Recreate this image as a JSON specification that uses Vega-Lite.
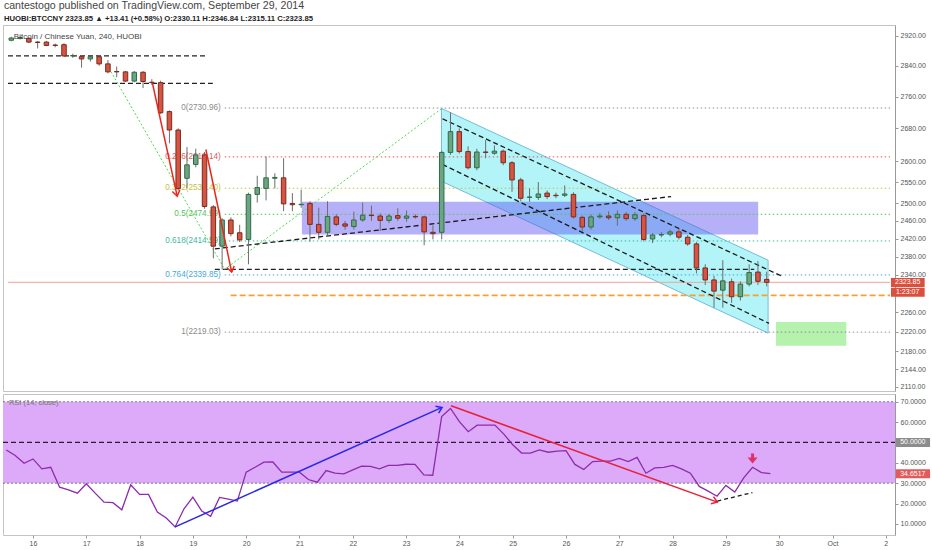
{
"$schema": "https://vega.github.io/schema/vega-lite/v6.json",
"background": "white",
"padding": {"left": 1, "top": 1, "right": 0, "bottom": 0},
"spacing": 1,
"title": {"text": "cantestogo published on TradingView.com, September 29, 2014", "subtitle": "HUOBI:BTCCNY  2323.85 ▲ +13.41 (+0.58%)  O:2330.11  H:2346.84  L:2315.11  C:2323.85", "anchor": "start", "font": "Liberation Sans", "fontSize": 10.6, "fontWeight": "normal", "color": "#444", "subtitleFont": "Liberation Sans", "subtitleFontSize": 7.7, "subtitleFontWeight": "bold", "subtitleColor": "#222", "subtitlePadding": 3, "offset": 2, "dx": 2},
"config": {"view": {"stroke": "#c4c4c4", "strokeWidth": 1}, "font": "Liberation Sans", "axis": {"labelFont": "Liberation Sans", "labelFontSize": 7, "labelColor": "#555", "tickColor": "#999", "tickSize": 3, "domainColor": "#999", "grid": false, "labelPadding": 2, "labelOverlap": false}},
"datasets": {
"bars": [
{"t":"2014-09-15T12:00","o":2908,"h":2917,"l":2905,"c":2914,"rsi":46.3},
{"t":"2014-09-15T16:00","o":2913,"h":2918,"l":2910,"c":2915,"rsi":43.6},
{"t":"2014-09-15T20:00","o":2913,"h":2916,"l":2900,"c":2903,"rsi":39.8},
{"t":"2014-09-16T00:00","o":2903,"h":2906,"l":2886,"c":2902,"rsi":41.9},
{"t":"2014-09-16T04:00","o":2903,"h":2906,"l":2892,"c":2894,"rsi":37.0},
{"t":"2014-09-16T08:00","o":2895,"h":2899,"l":2889,"c":2894,"rsi":37.8},
{"t":"2014-09-16T12:00","o":2896,"h":2900,"l":2864,"c":2866,"rsi":28.0},
{"t":"2014-09-16T16:00","o":2866,"h":2872,"l":2861,"c":2867,"rsi":26.7},
{"t":"2014-09-16T20:00","o":2864,"h":2867,"l":2835,"c":2858,"rsi":25.1},
{"t":"2014-09-17T00:00","o":2858,"h":2866,"l":2851,"c":2864,"rsi":29.7},
{"t":"2014-09-17T04:00","o":2864,"h":2868,"l":2840,"c":2845,"rsi":25.1},
{"t":"2014-09-17T08:00","o":2845,"h":2855,"l":2820,"c":2824,"rsi":20.7},
{"t":"2014-09-17T12:00","o":2825,"h":2838,"l":2810,"c":2824,"rsi":20.4},
{"t":"2014-09-17T16:00","o":2824,"h":2826,"l":2798,"c":2800,"rsi":16.9},
{"t":"2014-09-17T20:00","o":2800,"h":2826,"l":2797,"c":2823,"rsi":29.2},
{"t":"2014-09-18T00:00","o":2823,"h":2826,"l":2782,"c":2799,"rsi":24.5},
{"t":"2014-09-18T04:00","o":2797,"h":2805,"l":2790,"c":2796,"rsi":24.5},
{"t":"2014-09-18T08:00","o":2796,"h":2801,"l":2716,"c":2719,"rsi":15.8},
{"t":"2014-09-18T12:00","o":2722,"h":2725,"l":2643,"c":2676,"rsi":12.9},
{"t":"2014-09-18T16:00","o":2676,"h":2680,"l":2530,"c":2535,"rsi":8.5},
{"t":"2014-09-18T20:00","o":2559,"h":2634,"l":2535,"c":2591,"rsi":17.4},
{"t":"2014-09-19T00:00","o":2592,"h":2630,"l":2585,"c":2615,"rsi":23.1},
{"t":"2014-09-19T04:00","o":2615,"h":2622,"l":2488,"c":2493,"rsi":16.3},
{"t":"2014-09-19T08:00","o":2492,"h":2496,"l":2376,"c":2403,"rsi":13.7},
{"t":"2014-09-19T12:00","o":2403,"h":2466,"l":2352,"c":2462,"rsi":23.0},
{"t":"2014-09-19T16:00","o":2462,"h":2468,"l":2425,"c":2431,"rsi":22.2},
{"t":"2014-09-19T20:00","o":2433,"h":2451,"l":2412,"c":2417,"rsi":21.2},
{"t":"2014-09-20T00:00","o":2418,"h":2525,"l":2363,"c":2521,"rsi":35.4},
{"t":"2014-09-20T04:00","o":2521,"h":2565,"l":2502,"c":2537,"rsi":37.8},
{"t":"2014-09-20T08:00","o":2535,"h":2611,"l":2507,"c":2560,"rsi":40.3},
{"t":"2014-09-20T12:00","o":2559,"h":2571,"l":2535,"c":2561,"rsi":40.4},
{"t":"2014-09-20T16:00","o":2560,"h":2607,"l":2482,"c":2499,"rsi":35.4},
{"t":"2014-09-20T20:00","o":2500,"h":2524,"l":2482,"c":2497,"rsi":35.4},
{"t":"2014-09-21T00:00","o":2497,"h":2532,"l":2490,"c":2498,"rsi":35.4},
{"t":"2014-09-21T04:00","o":2500,"h":2505,"l":2413,"c":2452,"rsi":31.8},
{"t":"2014-09-21T08:00","o":2452,"h":2490,"l":2418,"c":2434,"rsi":30.5},
{"t":"2014-09-21T12:00","o":2434,"h":2505,"l":2428,"c":2470,"rsi":36.2},
{"t":"2014-09-21T16:00","o":2469,"h":2475,"l":2448,"c":2452,"rsi":34.9},
{"t":"2014-09-21T20:00","o":2453,"h":2460,"l":2440,"c":2448,"rsi":34.6},
{"t":"2014-09-22T00:00","o":2447,"h":2481,"l":2440,"c":2462,"rsi":36.5},
{"t":"2014-09-22T04:00","o":2462,"h":2502,"l":2458,"c":2473,"rsi":38.3},
{"t":"2014-09-22T08:00","o":2473,"h":2495,"l":2460,"c":2472,"rsi":38.2},
{"t":"2014-09-22T12:00","o":2471,"h":2477,"l":2437,"c":2461,"rsi":37.0},
{"t":"2014-09-22T16:00","o":2461,"h":2476,"l":2455,"c":2471,"rsi":38.7},
{"t":"2014-09-22T20:00","o":2472,"h":2489,"l":2460,"c":2466,"rsi":38.7},
{"t":"2014-09-23T00:00","o":2466,"h":2484,"l":2458,"c":2471,"rsi":39.3},
{"t":"2014-09-23T04:00","o":2470,"h":2475,"l":2465,"c":2469,"rsi":39.2},
{"t":"2014-09-23T08:00","o":2469,"h":2472,"l":2405,"c":2435,"rsi":34.1},
{"t":"2014-09-23T12:00","o":2434,"h":2450,"l":2418,"c":2431,"rsi":33.9},
{"t":"2014-09-23T16:00","o":2434,"h":2625,"l":2418,"c":2621,"rsi":62.7},
{"t":"2014-09-23T20:00","o":2621,"h":2720,"l":2615,"c":2672,"rsi":66.7},
{"t":"2014-09-24T00:00","o":2672,"h":2680,"l":2618,"c":2623,"rsi":60.2},
{"t":"2014-09-24T04:00","o":2623,"h":2636,"l":2580,"c":2584,"rsi":55.3},
{"t":"2014-09-24T08:00","o":2584,"h":2630,"l":2578,"c":2622,"rsi":58.5},
{"t":"2014-09-24T12:00","o":2622,"h":2651,"l":2607,"c":2621,"rsi":58.5},
{"t":"2014-09-24T16:00","o":2619,"h":2638,"l":2615,"c":2624,"rsi":58.5},
{"t":"2014-09-24T20:00","o":2624,"h":2628,"l":2590,"c":2596,"rsi":54.1},
{"t":"2014-09-25T00:00","o":2596,"h":2600,"l":2527,"c":2555,"rsi":48.9},
{"t":"2014-09-25T04:00","o":2555,"h":2560,"l":2505,"c":2512,"rsi":44.8},
{"t":"2014-09-25T08:00","o":2514,"h":2535,"l":2504,"c":2515,"rsi":44.8},
{"t":"2014-09-25T12:00","o":2514,"h":2550,"l":2508,"c":2522,"rsi":46.3},
{"t":"2014-09-25T16:00","o":2524,"h":2530,"l":2510,"c":2516,"rsi":45.2},
{"t":"2014-09-25T20:00","o":2519,"h":2525,"l":2512,"c":2518,"rsi":45.7},
{"t":"2014-09-26T00:00","o":2519,"h":2542,"l":2515,"c":2522,"rsi":46.0},
{"t":"2014-09-26T04:00","o":2521,"h":2526,"l":2465,"c":2469,"rsi":39.2},
{"t":"2014-09-26T08:00","o":2468,"h":2472,"l":2435,"c":2446,"rsi":36.7},
{"t":"2014-09-26T12:00","o":2446,"h":2475,"l":2440,"c":2469,"rsi":40.6},
{"t":"2014-09-26T16:00","o":2469,"h":2478,"l":2465,"c":2471,"rsi":40.8},
{"t":"2014-09-26T20:00","o":2471,"h":2482,"l":2462,"c":2467,"rsi":40.8},
{"t":"2014-09-27T00:00","o":2467,"h":2484,"l":2449,"c":2475,"rsi":42.2},
{"t":"2014-09-27T04:00","o":2475,"h":2480,"l":2460,"c":2465,"rsi":40.6},
{"t":"2014-09-27T08:00","o":2465,"h":2480,"l":2460,"c":2474,"rsi":42.7},
{"t":"2014-09-27T12:00","o":2472,"h":2477,"l":2414,"c":2418,"rsi":34.9},
{"t":"2014-09-27T16:00","o":2419,"h":2432,"l":2410,"c":2428,"rsi":37.5},
{"t":"2014-09-27T20:00","o":2428,"h":2435,"l":2423,"c":2429,"rsi":37.8},
{"t":"2014-09-28T00:00","o":2430,"h":2440,"l":2425,"c":2435,"rsi":38.7},
{"t":"2014-09-28T04:00","o":2435,"h":2442,"l":2418,"c":2423,"rsi":37.0},
{"t":"2014-09-28T08:00","o":2423,"h":2428,"l":2404,"c":2408,"rsi":34.9},
{"t":"2014-09-28T12:00","o":2408,"h":2412,"l":2343,"c":2355,"rsi":28.4},
{"t":"2014-09-28T16:00","o":2355,"h":2363,"l":2318,"c":2329,"rsi":26.1},
{"t":"2014-09-28T20:00","o":2329,"h":2338,"l":2270,"c":2305,"rsi":23.6},
{"t":"2014-09-29T00:00","o":2307,"h":2372,"l":2270,"c":2327,"rsi":28.9},
{"t":"2014-09-29T04:00","o":2325,"h":2332,"l":2280,"c":2293,"rsi":25.6},
{"t":"2014-09-29T08:00","o":2293,"h":2326,"l":2285,"c":2320,"rsi":32.6},
{"t":"2014-09-29T12:00","o":2320,"h":2363,"l":2315,"c":2345,"rsi":37.8},
{"t":"2014-09-29T16:00","o":2346,"h":2370,"l":2318,"c":2326,"rsi":35.2},
{"t":"2014-09-29T20:00","o":2330.11,"h":2346.84,"l":2315.11,"c":2323.85,"rsi":34.65}
],
"fib": [
{"t":"2014-09-19T13:11","t2":"2014-10-02T04:08","tl":"2014-09-19T11:50","p":2730.96,"lvl":"0","label":"0(2730.96)"},
{"t":"2014-09-19T13:11","t2":"2014-10-02T04:08","tl":"2014-09-19T11:50","p":2610.14,"lvl":"0.236","label":"0.236(2610.14)"},
{"t":"2014-09-19T13:11","t2":"2014-10-02T04:08","tl":"2014-09-19T11:50","p":2535.40,"lvl":"0.382","label":"0.382(2535.40)"},
{"t":"2014-09-19T13:11","t2":"2014-10-02T04:08","tl":"2014-09-19T11:50","p":2474.99,"lvl":"0.5","label":"0.5(2474.99)"},
{"t":"2014-09-19T13:11","t2":"2014-10-02T04:08","tl":"2014-09-19T11:50","p":2414.59,"lvl":"0.618","label":"0.618(2414.59)"},
{"t":"2014-09-19T13:11","t2":"2014-10-02T04:08","tl":"2014-09-19T11:50","p":2339.85,"lvl":"0.764","label":"0.764(2339.85)"},
{"t":"2014-09-19T13:11","t2":"2014-10-02T04:08","tl":"2014-09-19T11:50","p":2219.03,"lvl":"1","label":"1(2219.03)"}
]
},
"vconcat": [
{
"width": 892, "height": 366,
"layer": [
{"data": {"values": [{"t":"2014-09-23T15:53","p":2730,"p2":2552},{"t":"2014-09-29T20:37","p":2372,"p2":2217}]},
 "mark": {"type": "area", "color": "#b3f4f9", "opacity": 1},
 "encoding": {
  "x": {"field": "t", "type": "temporal", "scale": {"domain": [{"year":2014,"month":9,"date":15,"hours":10,"minutes":30},{"year":2014,"month":10,"date":2,"hours":4,"minutes":8}], "nice": false}, "axis": null},
  "y": {"field": "p", "type": "quantitative", "scale": {"type": "log", "domain": [2101.3, 2949.3], "nice": false, "zero": false}, "axis": {"orient": "right", "title": null, "values": [2110,2144,2180,2220,2260,2340,2380,2420,2460,2500,2550,2600,2680,2760,2840,2920], "format": ".2f", "labelOverlap": false}},
  "y2": {"field": "p2"}}},
{"data": {"values": [{"t":"2014-09-23T15:53","p":2730,"k":1},{"t":"2014-09-29T20:37","p":2372,"k":2},{"t":"2014-09-29T20:37","p":2217,"k":3},{"t":"2014-09-23T15:53","p":2552,"k":4},{"t":"2014-09-23T15:53","p":2730,"k":5}]},
 "mark": {"type": "line", "color": "#74bcd6", "strokeWidth": 1},
 "encoding": {
  "x": {"field": "t", "type": "temporal", "axis": null},
  "y": {"field": "p", "type": "quantitative"},
  "order": {"field": "k", "type": "quantitative"}}},
{"data": {"values": [{"t":"2014-09-21T00:20","t2":"2014-09-29T16:06","p":2504,"p2":2429}]},
 "mark": {"type": "rect", "color": "#5a50f0", "opacity": 0.45},
 "encoding": {"x": {"field": "t", "type": "temporal", "axis": null}, "x2": {"field": "t2"}, "y": {"field": "p", "type": "quantitative"}, "y2": {"field": "p2"}}},
{"data": {"values": [{"t":"2014-09-30T00:13","t2":"2014-10-01T08:14","p":2240,"p2":2191}]},
 "mark": {"type": "rect", "color": "#b4f2ae"},
 "encoding": {"x": {"field": "t", "type": "temporal", "axis": null}, "x2": {"field": "t2"}, "y": {"field": "p", "type": "quantitative"}, "y2": {"field": "p2"}}},
{"data": {"name": "fib"},
 "mark": {"type": "rule", "strokeDash": [1.5, 2.5], "strokeWidth": 1},
 "encoding": {"x": {"field": "t", "type": "temporal", "axis": null}, "x2": {"field": "t2"}, "y": {"field": "p", "type": "quantitative"},
  "color": {"field": "lvl", "type": "nominal", "scale": {"domain": ["0","0.236","0.382","0.5","0.618","0.764","1"], "range": ["#8c8c8c","#e25a5a","#c2c444","#55c255","#3fb8a2","#48a8d8","#8c8c8c"]}, "legend": null}}},
{"data": {"name": "fib"},
 "mark": {"type": "text", "align": "right", "baseline": "middle", "fontSize": 8.2, "font": "Liberation Sans", "dx": -1},
 "encoding": {"x": {"field": "tl", "type": "temporal", "axis": null}, "y": {"field": "p", "type": "quantitative"}, "text": {"field": "label"},
  "color": {"field": "lvl", "type": "nominal", "legend": null}}},
{"data": {"values": [{"t":"2014-09-15T10:30","t2":"2014-09-19T04:36","p":2866},{"t":"2014-09-15T10:30","t2":"2014-09-19T07:46","p":2794},{"t":"2014-09-19T08:41","t2":"2014-09-29T14:18","p":2352}]},
 "mark": {"type": "rule", "color": "#222", "strokeDash": [5, 3], "strokeWidth": 1.3},
 "encoding": {"x": {"field": "t", "type": "temporal", "axis": null}, "x2": {"field": "t2"}, "y": {"field": "p", "type": "quantitative"}}},
{"data": {"values": [{"t":"2014-09-19T15:53","t2":"2014-10-02T04:08","p":2296}]},
 "mark": {"type": "rule", "color": "#f7a030", "strokeDash": [6, 3], "strokeWidth": 1.6},
 "encoding": {"x": {"field": "t", "type": "temporal", "axis": null}, "x2": {"field": "t2"}, "y": {"field": "p", "type": "quantitative"}}},
{"data": {"values": [{"t":"2014-09-15T10:30","t2":"2014-10-02T04:08","p":2323.85}]},
 "mark": {"type": "rule", "color": "#f2a0a0", "strokeWidth": 1},
 "encoding": {"x": {"field": "t", "type": "temporal", "axis": null}, "x2": {"field": "t2"}, "y": {"field": "p", "type": "quantitative"}}},
{"data": {"values": [{"t":"2014-09-17T07:34","p":2843},{"t":"2014-09-19T13:11","p":2352},{"t":"2014-09-23T16:20","p":2731}]},
 "mark": {"type": "line", "color": "#4ddc4d", "strokeDash": [2, 2], "strokeWidth": 1},
 "encoding": {"x": {"field": "t", "type": "temporal", "axis": null}, "y": {"field": "p", "type": "quantitative"}}},
{"data": {"values": [{"id":"trend","t":"2014-09-19T08:41","p":2397},{"id":"trend","t":"2014-09-28T00:27","p":2516},{"id":"up","t":"2014-09-23T16:20","p":2704},{"id":"up","t":"2014-09-30T02:55","p":2337},{"id":"low","t":"2014-09-23T16:20","p":2592},{"id":"low","t":"2014-09-29T21:04","p":2237}]},
 "mark": {"type": "line", "color": "#1a1a1a", "strokeDash": [5, 3], "strokeWidth": 1.3},
 "encoding": {"x": {"field": "t", "type": "temporal", "axis": null}, "y": {"field": "p", "type": "quantitative"}, "detail": {"field": "id"}}},
{"data": {"name": "bars"},
 "mark": {"type": "rule", "color": "#6d6d6d", "strokeWidth": 1},
 "encoding": {"x": {"field": "t", "type": "temporal", "axis": null}, "y": {"field": "l", "type": "quantitative"}, "y2": {"field": "h"}}},
{"data": {"name": "bars"},
 "mark": {"type": "bar", "size": 4.5, "strokeWidth": 1},
 "encoding": {"x": {"field": "t", "type": "temporal", "axis": null}, "y": {"field": "o", "type": "quantitative"}, "y2": {"field": "c"},
  "fill": {"condition": {"test": "datum.c >= datum.o", "value": "#6ba583"}, "value": "#d75442"},
  "stroke": {"condition": {"test": "datum.c >= datum.o", "value": "#2f6b45"}, "value": "#7a2a1f"}}},
{"data": {"values": [{"id":"a1","t":"2014-09-18T04:16","p":2795},{"id":"a1","t":"2014-09-18T15:33","p":2517},{"id":"a2","t":"2014-09-19T04:36","p":2628},{"id":"a2","t":"2014-09-19T16:21","p":2346}]},
 "mark": {"type": "line", "color": "#e8281e", "strokeWidth": 1.5},
 "encoding": {"x": {"field": "t", "type": "temporal", "axis": null}, "y": {"field": "p", "type": "quantitative"}, "detail": {"field": "id"}}},
{"data": {"values": [{"t":"2014-09-18T15:33","p":2517},{"t":"2014-09-19T16:21","p":2346}]},
 "mark": {"type": "point", "shape": "M-0.7,1L0,0L0.7,1", "filled": false, "stroke": "#e8281e", "strokeWidth": 1.5, "size": 120, "angle": 168, "opacity": 1},
 "encoding": {"x": {"field": "t", "type": "temporal", "axis": null}, "y": {"field": "p", "type": "quantitative"}}},
{"data": {"values": [{"t":"2014-09-15T13:10","p":2918,"txt":"Bitcoin / Chinese Yuan, 240, HUOBI"}]},
 "mark": {"type": "text", "align": "left", "baseline": "middle", "fontSize": 8, "font": "Liberation Sans", "color": "#444"},
 "encoding": {"x": {"field": "t", "type": "temporal", "axis": null}, "y": {"field": "p", "type": "quantitative"}, "text": {"field": "txt"}}},
{"data": {"values": [{"t":"2014-10-02T04:35","t2":"2014-10-02T19:55","p":2333.4,"p2":2314.0},{"t":"2014-10-02T04:35","t2":"2014-10-02T19:55","p":2312.0,"p2":2292.8}]},
 "mark": {"type": "rect", "color": "#d9503f"},
 "encoding": {"x": {"field": "t", "type": "temporal", "axis": null}, "x2": {"field": "t2"}, "y": {"field": "p", "type": "quantitative"}, "y2": {"field": "p2"}}},
{"data": {"values": [{"t":"2014-10-02T12:10","p":2323.85,"txt":"2323.85"},{"t":"2014-10-02T12:10","p":2302.4,"txt":"1:23:07"}]},
 "mark": {"type": "text", "align": "center", "baseline": "middle", "fontSize": 7, "font": "Liberation Sans", "color": "white"},
 "encoding": {"x": {"field": "t", "type": "temporal", "axis": null}, "y": {"field": "p", "type": "quantitative"}, "text": {"field": "txt"}}}
]
},
{
"width": 892, "height": 141,
"layer": [
{"data": {"values": [{"t":"2014-09-15T10:30","t2":"2014-10-02T04:08","r":70,"r2":30}]},
 "mark": {"type": "rect", "color": "#dcaaf8"},
 "encoding": {
  "x": {"field": "t", "type": "temporal", "scale": {"domain": [{"year":2014,"month":9,"date":15,"hours":10,"minutes":30},{"year":2014,"month":10,"date":2,"hours":4,"minutes":8}], "nice": false},
   "axis": {"orient": "bottom", "title": null, "domain": false, "labelOverlap": false, "labelPadding": 1, "labelExpr": "date(datum.value) == 1 ? 'Oct' : '' + date(datum.value)",
    "values": [{"year":2014,"month":9,"date":16},{"year":2014,"month":9,"date":17},{"year":2014,"month":9,"date":18},{"year":2014,"month":9,"date":19},{"year":2014,"month":9,"date":20},{"year":2014,"month":9,"date":21},{"year":2014,"month":9,"date":22},{"year":2014,"month":9,"date":23},{"year":2014,"month":9,"date":24},{"year":2014,"month":9,"date":25},{"year":2014,"month":9,"date":26},{"year":2014,"month":9,"date":27},{"year":2014,"month":9,"date":28},{"year":2014,"month":9,"date":29},{"year":2014,"month":9,"date":30},{"year":2014,"month":10,"date":1},{"year":2014,"month":10,"date":2}]}},
  "x2": {"field": "t2"},
  "y": {"field": "r", "type": "quantitative", "scale": {"domain": [4.54, 73.8], "nice": false, "zero": false}, "axis": {"orient": "right", "title": null, "values": [10,20,30,40,60,70], "format": ".4f", "labelOverlap": false, "tickCount": 7}},
  "y2": {"field": "r2"}}},
{"data": {"values": [{"t":"2014-09-15T10:30","t2":"2014-10-02T04:08","r":70},{"t":"2014-09-15T10:30","t2":"2014-10-02T04:08","r":30}]},
 "mark": {"type": "rule", "color": "#666", "strokeDash": [2, 2], "strokeWidth": 0.8},
 "encoding": {"x": {"field": "t", "type": "temporal"}, "x2": {"field": "t2"}, "y": {"field": "r", "type": "quantitative", "axis": {"orient": "right", "title": null, "values": [10,20,30,40,60,70], "format": ".4f", "labelOverlap": false, "tickCount": 7}}}},
{"data": {"values": [{"t":"2014-09-15T10:30","t2":"2014-10-02T04:08","r":50}]},
 "mark": {"type": "rule", "color": "#2a1a3a", "strokeDash": [5, 3], "strokeWidth": 1.2},
 "encoding": {"x": {"field": "t", "type": "temporal"}, "x2": {"field": "t2"}, "y": {"field": "r", "type": "quantitative", "axis": {"orient": "right", "title": null, "values": [10,20,30,40,60,70], "format": ".4f", "labelOverlap": false, "tickCount": 7}}}},
{"data": {"name": "bars"},
 "mark": {"type": "line", "color": "#8e2aae", "strokeWidth": 1.3},
 "encoding": {"x": {"field": "t", "type": "temporal"}, "y": {"field": "rsi", "type": "quantitative", "axis": {"orient": "right", "title": null, "values": [10,20,30,40,60,70], "format": ".4f", "labelOverlap": false, "tickCount": 7}}}},
{"data": {"values": [{"t":"2014-09-18T16:00","r":8.5},{"t":"2014-09-23T16:12","r":67.2}]},
 "mark": {"type": "line", "color": "#2828e8", "strokeWidth": 1.5},
 "encoding": {"x": {"field": "t", "type": "temporal"}, "y": {"field": "r", "type": "quantitative"}}},
{"data": {"values": [{"t":"2014-09-23T16:12","r":67.2}]},
 "mark": {"type": "point", "shape": "M-0.7,1L0,0L0.7,1", "filled": false, "stroke": "#2828e8", "strokeWidth": 1.5, "size": 120, "angle": 66, "opacity": 1},
 "encoding": {"x": {"field": "t", "type": "temporal"}, "y": {"field": "r", "type": "quantitative"}}},
{"data": {"values": [{"t":"2014-09-23T20:15","r":68.0},{"t":"2014-09-28T20:08","r":20.7}]},
 "mark": {"type": "line", "color": "#e8203c", "strokeWidth": 1.5},
 "encoding": {"x": {"field": "t", "type": "temporal"}, "y": {"field": "r", "type": "quantitative"}}},
{"data": {"values": [{"t":"2014-09-28T20:08","r":20.7}]},
 "mark": {"type": "point", "shape": "M-0.7,1L0,0L0.7,1", "filled": false, "stroke": "#e8203c", "strokeWidth": 1.5, "size": 120, "angle": 110, "opacity": 1},
 "encoding": {"x": {"field": "t", "type": "temporal"}, "y": {"field": "r", "type": "quantitative"}}},
{"data": {"values": [{"t":"2014-09-28T20:08","r":21.2},{"t":"2014-09-29T11:56","r":25.4}]},
 "mark": {"type": "line", "color": "#1a1a1a", "strokeDash": [4, 3], "strokeWidth": 1.3},
 "encoding": {"x": {"field": "t", "type": "temporal"}, "y": {"field": "r", "type": "quantitative"}}},
{"data": {"values": [{"t":"2014-09-29T12:00","r":44.6,"r2":42.0}]},
 "mark": {"type": "rule", "color": "#e0306c", "strokeWidth": 3},
 "encoding": {"x": {"field": "t", "type": "temporal"}, "y": {"field": "r", "type": "quantitative"}, "y2": {"field": "r2"}}},
{"data": {"values": [{"t":"2014-09-29T12:00","r":41.4}]},
 "mark": {"type": "point", "shape": "M-1,-0.5L1,-0.5L0,0.7Z", "filled": true, "color": "#e0306c", "size": 100, "opacity": 1},
 "encoding": {"x": {"field": "t", "type": "temporal"}, "y": {"field": "r", "type": "quantitative"}}},
{"data": {"values": [{"t":"2014-09-15T13:10","r":69.4,"txt":"RSI (14, close)"}]},
 "mark": {"type": "text", "align": "left", "baseline": "middle", "fontSize": 7.5, "font": "Liberation Sans", "color": "#777"},
 "encoding": {"x": {"field": "t", "type": "temporal"}, "y": {"field": "r", "type": "quantitative"}, "text": {"field": "txt"}}},
{"data": {"values": [{"t":"2014-10-02T04:35","t2":"2014-10-02T19:55","r":52.2,"r2":47.8,"k":"a"},{"t":"2014-10-02T04:35","t2":"2014-10-02T19:55","r":36.85,"r2":32.45,"k":"b"}]},
 "mark": {"type": "rect"},
 "encoding": {"x": {"field": "t", "type": "temporal"}, "x2": {"field": "t2"}, "y": {"field": "r", "type": "quantitative"}, "y2": {"field": "r2"},
  "color": {"field": "k", "type": "nominal", "scale": {"domain": ["a","b"], "range": ["#111111","#8e1f9e"]}, "legend": null}}},
{"data": {"values": [{"t":"2014-10-02T12:10","r":50,"txt":"50.0000"},{"t":"2014-10-02T12:10","r":34.65,"txt":"34.6517"}]},
 "mark": {"type": "text", "align": "center", "baseline": "middle", "fontSize": 7, "font": "Liberation Sans", "color": "white"},
 "encoding": {"x": {"field": "t", "type": "temporal"}, "y": {"field": "r", "type": "quantitative"}, "text": {"field": "txt"}}}
]
}
]
}
